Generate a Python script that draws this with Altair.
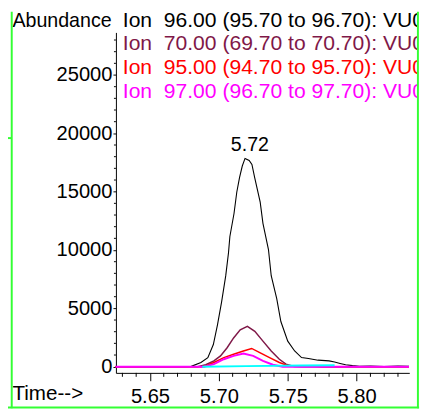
import altair as alt
import pandas as pd

FONT = "Liberation Sans"

# ---- data ----
ion_labels = [
    "Ion\u00a0\u00a096.00 (95.70 to 96.70): VU0",
    "Ion\u00a0\u00a070.00 (69.70 to 70.70): VU0",
    "Ion\u00a0\u00a095.00 (94.70 to 95.70): VU0",
    "Ion\u00a0\u00a097.00 (96.70 to 97.70): VU0",
]
ion_colors = ["#000000", "#7f1848", "#ff0000", "#ff00ff"]

t96 = [5.625, 5.660, 5.675, 5.680, 5.687, 5.692, 5.696, 5.699, 5.702, 5.705,
       5.707, 5.708, 5.711, 5.713, 5.715, 5.717, 5.719, 5.722, 5.724, 5.726,
       5.730, 5.732, 5.736, 5.738, 5.742, 5.745, 5.750, 5.755, 5.760, 5.765,
       5.772, 5.780, 5.784, 5.788, 5.792, 5.797, 5.802, 5.810, 5.820, 5.830, 5.838]
v96 = [0, 0, 0, 30, 360, 780, 1900, 3590, 5560, 7800,
       9770, 11160, 13130, 14950, 16210, 17200, 17850, 17680, 17340, 16210,
       14110, 12290, 10040, 7800, 5830, 3870, 2190, 1350, 780, 700,
       560, 500, 400, 280, 170, 90, 30, 60, 20, 50, 30]

t70 = [5.625, 5.660, 5.6846, 5.6905, 5.6964, 5.7012, 5.706, 5.7107, 5.7155, 5.7207,
       5.7261, 5.732, 5.738, 5.7439, 5.7487, 5.7546, 5.760, 5.838]
v70 = [0, 0, 0, 170, 505, 926, 1625, 2466, 3165, 3451,
       3030, 2189, 1347, 640, 219, 25, 0, 0]

t95 = [5.625, 5.660, 5.6893, 5.6964, 5.7036, 5.7107, 5.7178, 5.7238, 5.7297, 5.7368,
       5.7439, 5.751, 5.760, 5.770, 5.775, 5.838]
v95 = [0, 0, 0, 362, 783, 1061, 1347, 1566, 1204, 783,
       362, 50, 60, 30, 0, 0]

t97 = [5.625, 5.660, 5.6893, 5.6964, 5.7036, 5.7107, 5.7178, 5.7249, 5.732, 5.7392,
       5.7463, 5.760, 5.838]
v97 = [0, 0, 0, 219, 640, 926, 1120, 926, 505, 168,
       0, 0, 0]

t_cyan = [5.688, 5.720, 5.760, 5.784]
v_cyan = [0, 50, 100, 130]

peak_time = 5.719
peak_value = 17850
peak_label = "5.72"

y_major = [0, 5000, 10000, 15000, 20000, 25000]
y_minor = [v for v in range(1000, 29000, 1000) if v % 5000 != 0]
x_major = [5.65, 5.70, 5.75, 5.80]
x_minor = [5.63, 5.64, 5.66, 5.67, 5.68, 5.69, 5.71, 5.72, 5.73, 5.74,
           5.76, 5.77, 5.78, 5.79, 5.81, 5.82, 5.83]

x_domain = [5.6253, 5.8382]
y_domain = [-530, 28650]

W, H = 299, 347

xs = alt.Scale(domain=x_domain, nice=False, zero=False)
ys = alt.Scale(domain=y_domain, nice=False, zero=False)

dummy = pd.DataFrame({"a": [0]})


def series(ts, vs, color, sw):
    df = pd.DataFrame({"t": ts, "v": vs})
    return alt.Chart(df).mark_line(color=color, strokeWidth=sw, interpolate="linear").encode(
        x=alt.X("t:Q", scale=xs),
        y=alt.Y("v:Q", scale=ys),
    )


# base layer carrying the axes
axes_layer = alt.Chart(pd.DataFrame({"t": t96, "v": v96})).mark_line(
    color="#000000", strokeWidth=1.1
).encode(
    x=alt.X("t:Q", scale=xs, axis=alt.Axis(
        values=x_major, format=".2f", title=None, grid=False,
        tickSize=8, tickColor="#000", domainColor="#000",
        labelFont=FONT, labelFontSize=20.5, labelColor="#000", labelPadding=6,
        labelFlush=False, labelOverlap=False)),
    y=alt.Y("v:Q", scale=ys, axis=alt.Axis(
        values=y_major, format="d", title=None, grid=False,
        tickSize=3, tickColor="#000", domainColor="#000",
        labelFont=FONT, labelFontSize=20.5, labelColor="#000", labelPadding=1,
        labelOverlap=False)),
)

x_minor_ticks = alt.Chart(pd.DataFrame({"t": x_minor})).mark_rule(color="#000", strokeWidth=1).encode(
    x=alt.X("t:Q", scale=xs), y=alt.value(H), y2=alt.value(H + 4))
y_minor_ticks = alt.Chart(pd.DataFrame({"v": y_minor})).mark_rule(color="#000", strokeWidth=1).encode(
    y=alt.Y("v:Q", scale=ys), x=alt.value(-2), x2=alt.value(0))

layers = [
    axes_layer,
    series(t70, v70, ion_colors[1], 1.5),
    series(t95, v95, ion_colors[2], 1.5),
    series(t97, v97, ion_colors[3], 2),
    series(t_cyan, v_cyan, "#00ffff", 2),
    x_minor_ticks,
    y_minor_ticks,
]

peak_text = alt.Chart(pd.DataFrame({"t": [peak_time], "v": [peak_value], "s": [peak_label]})).mark_text(
    font=FONT, fontSize=20, color="#000", baseline="alphabetic", align="center", dy=-8, dx=5
).encode(x=alt.X("t:Q", scale=xs), y=alt.Y("v:Q", scale=ys), text="s:N")
layers.append(peak_text)


def label(txt, x, y, color="#000", size=21, align="left"):
    return alt.Chart(dummy).mark_text(
        font=FONT, fontSize=size, color=color, align=align, baseline="alphabetic"
    ).encode(x=alt.value(x), y=alt.value(y), text=alt.value(txt))


layers.append(label("Abundance", -105.5, -5.5, size=20))
ion_y = [-5.5, 17.8, 42.7, 67]
for txt, col, yy in zip(ion_labels, ion_colors, ion_y):
    layers.append(label(txt, 7, yy, col, size=21.5))
layers.append(label("Time-->", -105.5, 375))

GREEN = "#33ff33"
# white mask to clip the legend text at the frame
layers.append(alt.Chart(dummy).mark_rect(color="#ffffff").encode(
    x=alt.value(307), x2=alt.value(315), y=alt.value(-21), y2=alt.value(384)))


def gline(x, x2, y, y2, sw=2):
    return alt.Chart(dummy).mark_rule(color=GREEN, strokeWidth=sw).encode(
        x=alt.value(x), x2=alt.value(x2), y=alt.value(y), y2=alt.value(y2))


layers.append(gline(-106.2, -106.2, -21, 383))
layers.append(gline(307.8, 307.8, -21, 383))
layers.append(gline(-110, 309, 382.3, 382.3))
layers.append(gline(-110, -106, 107.7, 107.7))

chart = alt.layer(*layers).properties(
    width=W, height=H,
    autosize=alt.AutoSizeParams(type="none"),
    padding={"left": 110, "top": 21, "right": 15, "bottom": 37},
    background="#ffffff",
).configure_view(stroke=None)

chart.save("out.html", embed_options={"renderer": "svg", "actions": False})
